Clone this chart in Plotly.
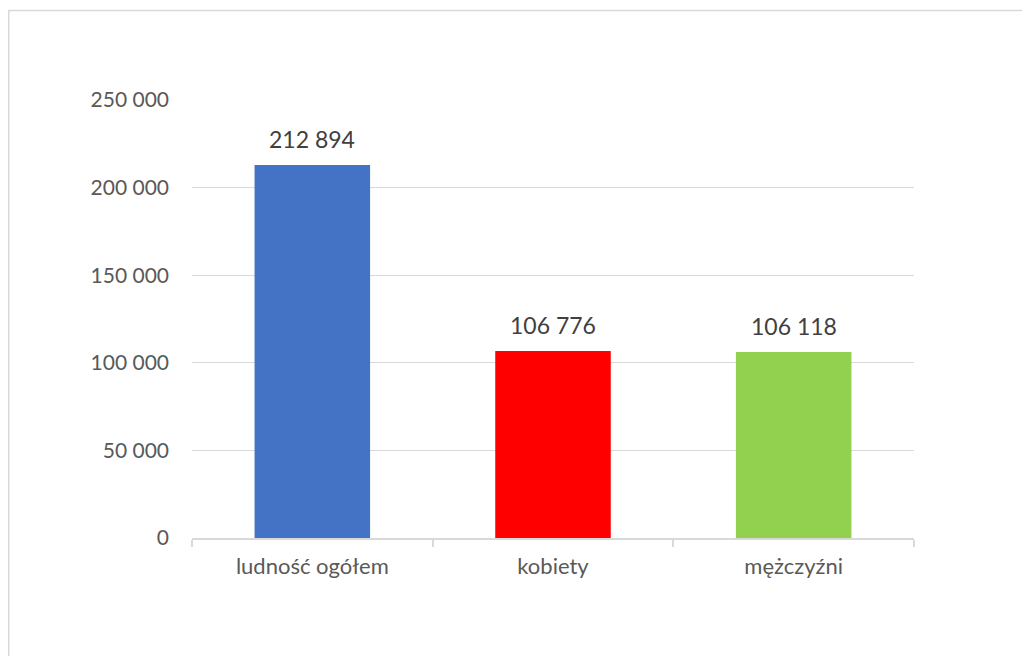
import plotly.graph_objects as go

categories = ["ludność ogółem", "kobiety", "mężczyźni"]
values = [212894, 106776, 106118]
colors = ["#4472C4", "#FF0000", "#92D050"]
y_ticks = [0, 50000, 100000, 150000, 200000, 250000]
y_tick_labels = ["0", "50 000", "100 000", "150 000", "200 000", "250 000"]

def fmt(v):
    return f"{v:,}".replace(",", " ")

OFF = 8  # page body margin
W, H = 1030 - OFF, 656 - OFF
L, R, T, B = 192 - OFF, 116, 100 - OFF, 118

fig = go.Figure()
fig.add_trace(go.Bar(
    x=categories, y=values, marker_color=colors, marker_line_width=0,
    hoverinfo="skip",
))

for c, v in zip(categories, values):
    fig.add_annotation(x=c, y=v, text=fmt(v), showarrow=False,
                       yanchor="bottom", yshift=10,
                       font=dict(family="Lato", size=23, color="#404040"))

pw = W - L - R
ph = H - T - B
def px_to_paper_x(px):
    return (px - L) / pw
def px_to_paper_y(py):
    return (H - B - py) / ph
fig.add_shape(type="rect", xref="paper", yref="paper",
              x0=px_to_paper_x(0.75), x1=px_to_paper_x(W + 20),
              y0=px_to_paper_y(H + 20), y1=px_to_paper_y(2.5),
              line=dict(color="#D9D9D9", width=1.5), layer="below")

fig.update_layout(
    width=W, height=H,
    margin=dict(l=L, r=R, t=T, b=B, pad=0),
    plot_bgcolor="white", paper_bgcolor="white",
    bargap=0.52, showlegend=False,
    font=dict(family="Lato", color="#595959"),
)
fig.update_yaxes(
    range=[0, 250000], tickvals=y_ticks, ticktext=y_tick_labels,
    showgrid=True, gridcolor="#D9D9D9", gridwidth=1,
    zeroline=False, showline=False, ticks="",
    tickfont=dict(family="Lato", size=21, color="#595959"),
    ticklabelstandoff=22,
)
fig.update_xaxes(
    showline=True, linecolor="#D9D9D9", linewidth=1.5,
    ticks="outside", tickson="boundaries", ticklen=7, tickcolor="#D9D9D9", tickwidth=1.5,
    tickfont=dict(family="Lato", size=22, color="#595959"),
    ticklabelstandoff=8,
)

fig.write_html("out.html")
